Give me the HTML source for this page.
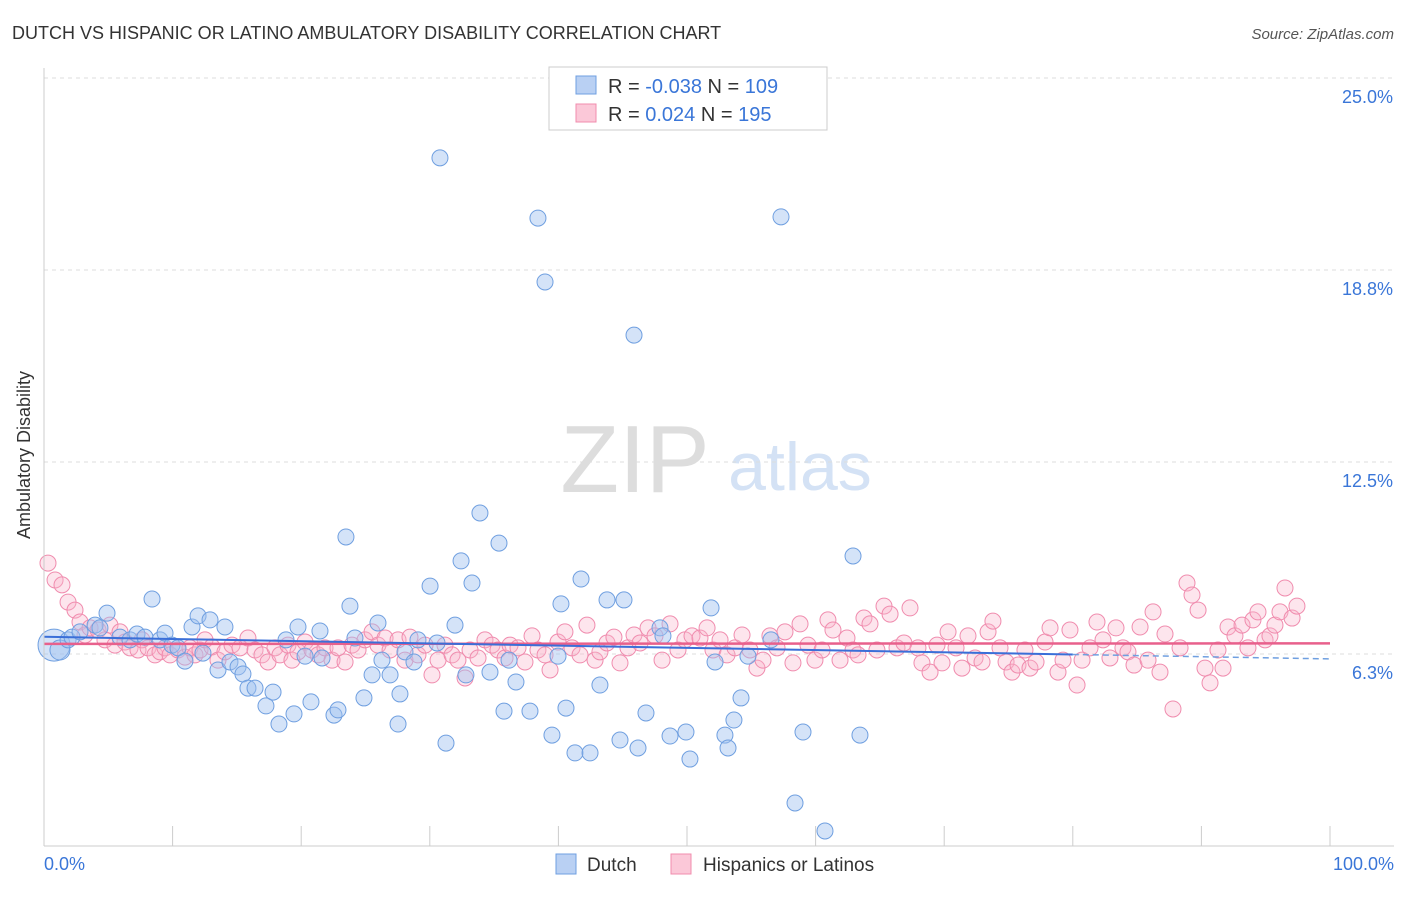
<!DOCTYPE html>
<html><head><meta charset="utf-8"><style>
body{margin:0;background:#fff;font-family:"Liberation Sans",sans-serif}
svg text{font-family:"Liberation Sans",sans-serif}
</style></head><body>
<svg id="c" width="1406" height="892">
<text x="12" y="39" font-size="18" fill="#333">DUTCH VS HISPANIC OR LATINO AMBULATORY DISABILITY CORRELATION CHART</text>
<text x="1394" y="39" font-size="15" fill="#555" text-anchor="end" font-style="italic">Source: ZipAtlas.com</text>
<text x="30" y="455" font-size="18" fill="#333" text-anchor="middle" transform="rotate(-90 30 455)">Ambulatory Disability</text>
<text x="635" y="492" font-size="96" fill="#ddd" text-anchor="middle" font-family="Liberation Serif">ZIP</text>
<text x="800" y="490" font-size="68" fill="#d4e2f5" text-anchor="middle">atlas</text>
<g id="grid"></g><g id="pts"></g><g id="trend"></g>
<line x1="44" y1="846" x2="1394" y2="846" stroke="#ccc"/>
<line x1="44" y1="68" x2="44" y2="846" stroke="#ccc"/>
<text x="44" y="870" font-size="18" fill="#3a76d8">0.0%</text>
<text x="1394" y="870" font-size="18" fill="#3a76d8" text-anchor="end">100.0%</text>
<g>
<rect x="549" y="67" width="278" height="63" fill="#fff" stroke="#ccc"/>
<rect x="576" y="76" width="20" height="18" fill="#b9d0f3" stroke="#6f9fe0"/>
<rect x="576" y="104" width="20" height="18" fill="#fbc8d8" stroke="#f08cae"/>
<text x="608" y="93" font-size="20" fill="#333">R = <tspan fill="#3a76d8">-0.038</tspan>   N = <tspan fill="#3a76d8">109</tspan></text>
<text x="608" y="121" font-size="20" fill="#333">R =  <tspan fill="#3a76d8"> 0.024</tspan>   N = <tspan fill="#3a76d8">195</tspan></text>
</g>
<g>
<rect x="556" y="854" width="20" height="20" fill="#b9d0f3" stroke="#6f9fe0"/>
<text x="587" y="871" font-size="19" fill="#333">Dutch</text>
<rect x="671" y="854" width="20" height="20" fill="#fbc8d8" stroke="#f08cae"/>
<text x="703" y="871" font-size="19" fill="#333">Hispanics or Latinos</text>
</g>
</svg>
<script>
const yTicks=[6.25,12.5,18.75,25];
const yTickLabels=["6.3%","12.5%","18.8%","25.0%"];
const dutchPx=[[54,645],[60,650],[68,640],[72,637],[80,632],[95,625],[100,628],[107,613],[120,637],[130,640],[137,634],[145,637],[152,599],[160,640],[165,633],[172,645],[178,648],[185,661],[192,627],[198,616],[203,653],[210,620],[218,670],[225,627],[230,662],[238,667],[243,674],[248,688],[255,688],[266,706],[273,692],[279,724],[286,640],[294,714],[298,627],[305,656],[311,702],[320,631],[322,658],[334,715],[338,710],[346,537],[350,606],[355,638],[364,698],[372,675],[378,623],[382,660],[390,675],[398,724],[400,694],[405,652],[414,662],[418,640],[430,586],[437,643],[446,743],[455,625],[461,561],[466,675],[472,583],[480,513],[490,672],[499,543],[504,711],[509,660],[516,682],[530,711],[538,218],[545,282],[552,735],[558,656],[561,604],[566,708],[575,753],[581,579],[590,753],[600,685],[607,600],[620,740],[624,600],[634,335],[638,748],[646,713],[660,628],[663,636],[670,736],[686,732],[690,759],[711,608],[715,662],[725,735],[728,748],[734,720],[741,698],[748,656],[771,640],[781,217],[795,803],[803,732],[825,831],[853,556],[860,735],[440,158]];
const hispPx=[[48,563],[55,580],[62,585],[68,602],[75,610],[80,622],[85,635],[90,628],[98,630],[105,640],[110,625],[115,645],[120,632],[125,642],[130,648],[138,650],[142,640],[148,648],[155,655],[160,652],[165,648],[170,655],[178,650],[185,657],[190,648],[195,655],[200,650],[205,640],[212,647],[218,660],[225,652],[232,645],[240,648],[248,638],[255,650],[262,655],[268,662],[275,648],[280,655],[288,645],[292,660],[298,652],[305,642],[312,650],[318,655],[325,648],[332,660],[338,648],[345,662],[352,645],[358,650],[365,640],[372,632],[378,645],[385,638],[390,650],[398,640],[405,660],[410,637],[418,655],[425,645],[432,675],[438,660],[445,645],[452,655],[458,660],[465,678],[470,650],[478,658],[485,640],[492,645],[498,650],[505,658],[510,645],[518,648],[525,662],[532,636],[538,650],[545,655],[550,670],[558,642],[565,632],[572,648],[580,655],[587,625],[595,660],[600,652],[607,643],[614,637],[620,663],[628,648],[634,635],[640,643],[648,628],[655,636],[662,660],[670,624],[678,650],[685,640],[692,636],[700,638],[707,628],[713,650],[720,640],[727,655],[735,648],[742,635],[750,650],[757,668],[763,660],[770,636],[777,648],[785,632],[793,663],[800,624],[808,645],[815,660],[822,650],[828,620],[833,630],[840,660],[847,638],[853,650],[858,655],[864,618],[870,624],[877,650],[884,606],[890,614],[897,648],[904,643],[910,608],[918,648],[922,663],[930,672],[937,645],[942,663],[948,632],[956,648],[962,668],[968,636],[975,658],[982,662],[988,632],[993,621],[1000,648],[1006,662],[1012,672],[1018,665],[1025,650],[1030,668],[1036,662],[1045,642],[1050,628],[1058,672],[1063,660],[1070,630],[1077,685],[1082,660],[1090,648],[1097,622],[1103,640],[1110,658],[1116,628],[1123,648],[1128,652],[1134,665],[1140,627],[1148,660],[1153,612],[1160,672],[1165,634],[1173,709],[1180,648],[1187,583],[1192,595],[1198,610],[1205,668],[1210,683],[1218,650],[1223,668],[1228,627],[1235,636],[1242,625],[1248,648],[1253,620],[1258,612],[1265,640],[1270,636],[1275,625],[1280,612],[1285,588],[1292,618],[1297,606]];
// data values (x in %, y in %), derived from the reading above
const toVal=p=>[+((p[0]-44)/12.86).toFixed(2),+((846-p[1])/30.72).toFixed(2)];
const dutchX=dutchPx.map(p=>toVal(p)[0]), dutchY=dutchPx.map(p=>toVal(p)[1]);
const hispX=hispPx.map(p=>toVal(p)[0]), hispY=hispPx.map(p=>toVal(p)[1]);

const X=v=>44+v*12.86, Y=v=>846-v*30.72;
const NS="http://www.w3.org/2000/svg";
function mk(t,a,parent){const e=document.createElementNS(NS,t);for(const k in a)e.setAttribute(k,a[k]);parent.appendChild(e);return e;}
const grid=document.getElementById('grid');
yTicks.forEach((t,i)=>{
  const l=mk('line',{x1:44,x2:1394,y1:Y(t),y2:Y(t),stroke:'#ddd','stroke-dasharray':'4 4'},grid);
  
  
  const tx=mk('text',{x:1393,y:Y(t)+25,'font-size':18,fill:'#3a76d8','text-anchor':'end'},grid);
  tx.textContent=yTickLabels[i];
  
  
});
for(let i=0;i<=10;i++){
  const l=mk('line',{x1:X(i*10),x2:X(i*10),y1:826,y2:846,stroke:'#ccc'},grid);
  
  
}
const pts=document.getElementById('pts');
hispX.forEach((x,i)=>{
  const c=mk('circle',{cx:X(x),cy:Y(hispY[i]),r:8,fill:'rgba(248,180,202,0.35)',stroke:'#f08cae','stroke-width':1},pts);
  
  
});
dutchX.forEach((x,i)=>{
  const c=mk('circle',{cx:X(x),cy:Y(dutchY[i]),r:i<2?(i==0?16:10):8,fill:'rgba(160,192,240,0.45)',stroke:'#6f9fe0','stroke-width':1},pts);
  
  
});
function reg(xs,ys){const n=xs.length;let mx=0,my=0;xs.forEach((x,i)=>{mx+=x;my+=ys[i]});mx/=n;my/=n;let sxy=0,sxx=0;xs.forEach((x,i)=>{sxy+=(x-mx)*(ys[i]-my);sxx+=(x-mx)**2});const b=sxy/sxx;return [my-b*mx,b];}
const tr=document.getElementById('trend');
const [ha,hb]=reg(hispX,hispY);
let l=mk('line',{x1:X(0),y1:Y(ha),x2:X(100),y2:Y(ha+hb*100),stroke:'#e8608c','stroke-width':2.5},tr);


const [da,db]=reg(dutchX,dutchY);
l=mk('line',{x1:X(0),y1:Y(da),x2:X(80),y2:Y(da+db*80),stroke:'#3a6fd8','stroke-width':2},tr);


l=mk('line',{x1:X(80),y1:Y(da+db*80),x2:X(100),y2:Y(da+db*100),stroke:'#6f9fe0','stroke-width':1.5,'stroke-dasharray':'6 4'},tr);


</script>
</body></html>
